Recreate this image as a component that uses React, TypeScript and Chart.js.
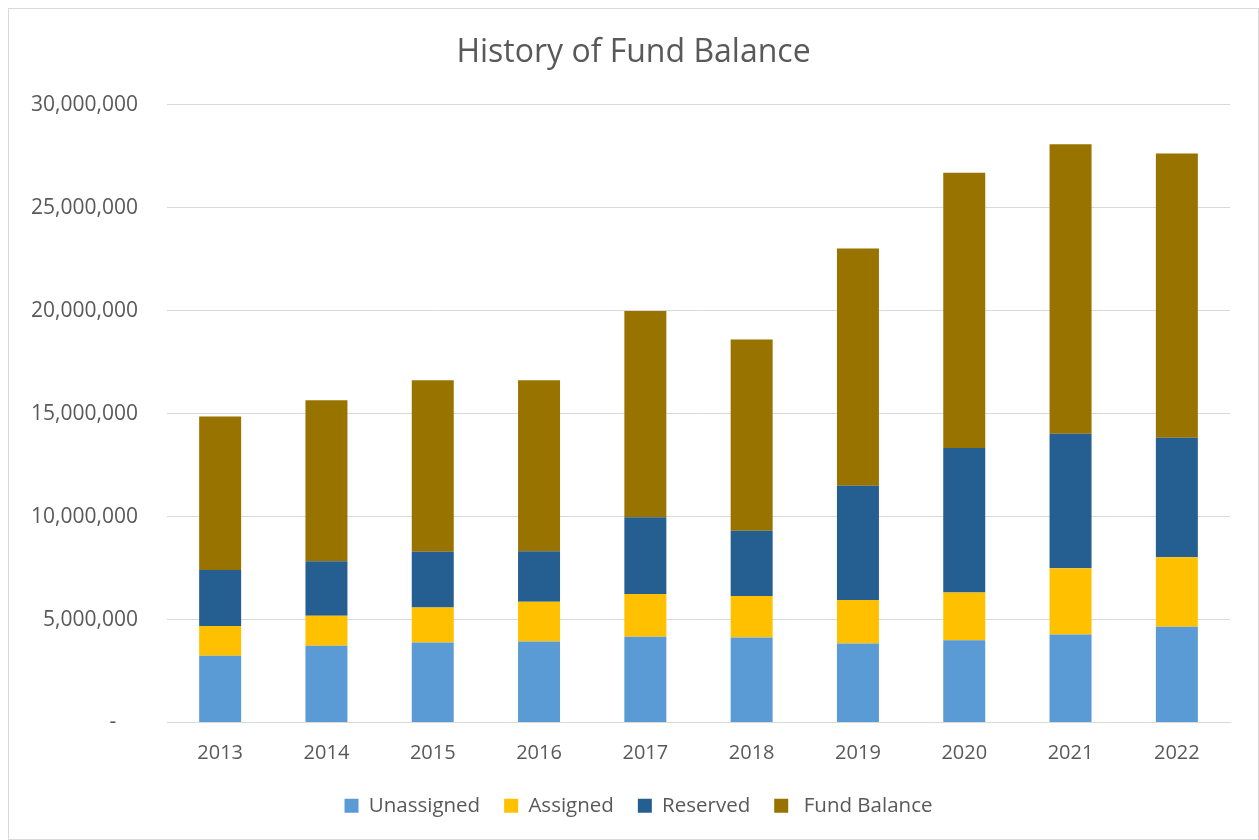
import React, { useEffect, useRef } from "react";
import { Chart, registerables } from "chart.js";

Chart.register(...registerables);

const years = ["2013", "2014", "2015", "2016", "2017", "2018", "2019", "2020", "2021", "2022"];
const unassigned = [3240000, 3730000, 3880000, 3940000, 4170000, 4130000, 3840000, 4000000, 4280000, 4650000];
const assigned = [1450000, 1460000, 1710000, 1920000, 2070000, 2020000, 2110000, 2320000, 3210000, 3380000];
const reserved = [2720000, 2640000, 2710000, 2460000, 3730000, 3160000, 5550000, 7010000, 6540000, 5800000];
const fundBalance = [7460000, 7820000, 8320000, 8300000, 10020000, 9290000, 11530000, 13380000, 14060000, 13810000];
const yTicks = [0, 5000000, 10000000, 15000000, 20000000, 25000000, 30000000];

const FONT = "'Open Sans', sans-serif";
const TEXT = "#595959";

const shiftBoxes = {
  id: "shiftBoxes",
  afterLayout(chart: any) {
    const lg = chart.legend;
    if (lg) {
      lg.left += 19;
      lg.right += 19;
    }
    const t = chart.titleBlock;
    if (t) {
      t.left += 14;
      t.right += 14;
    }
  },
};

export default function App() {
  const ref = useRef<HTMLCanvasElement | null>(null);
  useEffect(() => {
    if (!ref.current) return;
    const chart = new Chart(ref.current, {
      type: "bar",
      data: {
        labels: years,
        datasets: [
          { label: "Unassigned", data: unassigned, backgroundColor: "#5B9BD5" },
          { label: "Assigned", data: assigned, backgroundColor: "#FFC000" },
          { label: "Reserved", data: reserved, backgroundColor: "#255E91" },
          { label: " Fund Balance", data: fundBalance, backgroundColor: "#997300" },
        ],
      },
      plugins: [shiftBoxes],
      options: {
        animation: false,
        responsive: false,
        maintainAspectRatio: false,
        layout: { padding: { left: 0, right: 28, top: 0, bottom: 13 } },
        datasets: { bar: { categoryPercentage: 1, barPercentage: 0.395 } },
        plugins: {
          tooltip: { enabled: false },
          title: {
            display: true,
            text: "History of Fund Balance",
            color: TEXT,
            font: { family: FONT, size: 32, weight: "normal", lineHeight: 1.2 },
            padding: { top: 25, bottom: 32.5 },
          },
          legend: {
            position: "bottom",
            labels: {
              color: TEXT,
              font: { family: FONT, size: 20.5 },
              boxWidth: 14,
              boxHeight: 14,
              padding: 24,
            },
          },
        },
        scales: {
          x: {
            stacked: true,
            grid: { display: false, drawTicks: false },
            border: { display: true, color: "#D9D9D9", width: 1 },
            ticks: { color: TEXT, font: { family: FONT, size: 20 }, padding: 19, maxRotation: 0 },
            afterFit: (s: any) => { s.height = 49; },
          },
          y: {
            stacked: true,
            min: 0,
            max: 30000000,
            afterBuildTicks: (s: any) => { s.ticks = yTicks.map((v) => ({ value: v })); },
            grid: { color: "#D9D9D9", lineWidth: 1, drawTicks: false },
            border: { display: false },
            ticks: {
              color: TEXT,
              font: { family: FONT, size: 21 },
              padding: 29,
              callback: (v: any) => (Number(v) === 0 ? "-    " : Number(v).toLocaleString("en-US")),
            },
            afterFit: (s: any) => { s.width = 158; },
          },
        },
      },
    });
    return () => chart.destroy();
  }, []);
  return (
    <div
      style={{
        position: "absolute",
        left: 8,
        top: 8,
        width: 1249,
        height: 830,
        border: "1px solid #D9D9D9",
        background: "#fff",
      }}
    >
      <canvas ref={ref} width={1249} height={830} style={{ display: "block" }} />
    </div>
  );
}
